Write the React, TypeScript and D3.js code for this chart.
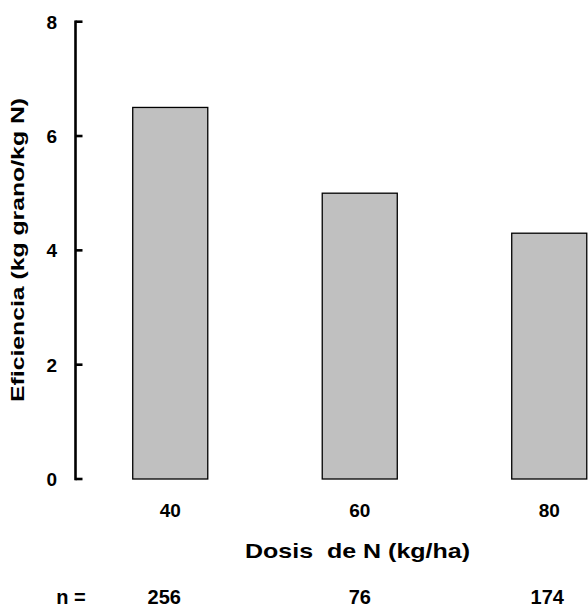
import React from "react";
import * as d3 from "d3";

const categories = ["40", "60", "80"];
const efficiency = [6.5, 5.0, 4.3];
const sampleSizes = ["256", "76", "174"];
const yTicks = [0, 2, 4, 6, 8];

const W = 588;
const H = 607;
const FONT = "'Liberation Sans', Arial, Helvetica, sans-serif";

export default function App() {
  const x = d3
    .scaleBand<string>()
    .domain(categories)
    .range([75.5, 644])
    .paddingInner(0.604)
    .paddingOuter(0.302);
  const y = d3.scaleLinear().domain([0, 8]).range([479, 21.7]);
  const axisX = 75.5;

  return (
    <svg
      width={W}
      height={H}
      style={{ position: "absolute", left: 0, top: 0, background: "#fff" }}
      fontFamily={FONT}
      fontWeight="bold"
    >
      <rect x={0} y={0} width={W} height={H} fill="#fff" />
      {/* bars */}
      {categories.map((c, i) => (
        <rect
          key={c}
          x={x(c)!}
          y={y(efficiency[i])}
          width={x.bandwidth()}
          height={y(0) - y(efficiency[i])}
          fill="#c0c0c0"
          stroke="#000"
          strokeWidth={1.3}
        />
      ))}
      {/* y axis */}
      <line x1={axisX} x2={axisX} y1={y(0)} y2={y(8)} stroke="#000" strokeWidth={2.6} strokeLinecap="square" />
      {yTicks.map((t) => (
        <g key={t}>
          <line x1={axisX} x2={axisX + 7} y1={y(t)} y2={y(t)} stroke="#000" strokeWidth={2.6} />
          <text x={57} y={y(t)} dy="0.36em" textAnchor="end" fontSize={19}>
            {t}
          </text>
        </g>
      ))}
      {/* y title */}
      <text
        transform={`translate(24,${250}) rotate(-90)`}
        textAnchor="middle"
        fontSize={19}
        textLength={304}
        lengthAdjust="spacingAndGlyphs"
      >
        Eficiencia (kg grano/kg N)
      </text>
      {/* x tick labels */}
      {categories.map((c) => (
        <text key={c} x={x(c)! + x.bandwidth() / 2} y={516.7} textAnchor="middle" fontSize={19}>
          {c}
        </text>
      ))}
      {/* x title */}
      <text
        x={357.5}
        y={557.7}
        textAnchor="middle"
        fontSize={21}
        textLength={225}
        lengthAdjust="spacingAndGlyphs"
        style={{ whiteSpace: "pre" }}
      >
        {"Dosis  de N (kg/ha)"}
      </text>
      {/* n row */}
      <text x={71} y={604} textAnchor="middle" fontSize={20} style={{ whiteSpace: "pre" }}>
        n =
      </text>
      {categories.map((c, i) => (
        <text key={c} x={x(c)! + x.bandwidth() / 2 - (i === 0 ? 6 : i === 2 ? 2 : 0)} y={604} textAnchor="middle" fontSize={20}>
          {sampleSizes[i]}
        </text>
      ))}
    </svg>
  );
}
